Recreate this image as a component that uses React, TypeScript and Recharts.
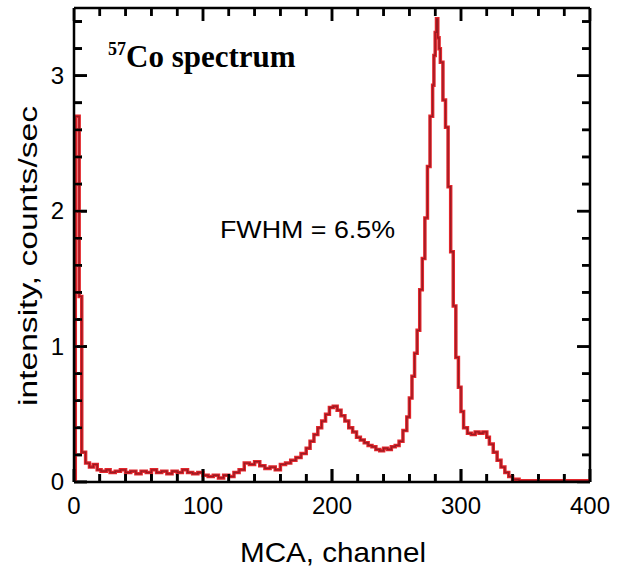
import React from "react";
import { LineChart, Line, XAxis, YAxis, Customized, ReferenceLine } from "recharts";

const channels = [
  0, 1, 4, 6, 9, 12, 15, 18, 21, 25, 28, 32, 36, 40, 44, 48, 52, 56, 60, 64, 68, 72, 76, 80, 84, 88, 92, 96,
  100, 104, 108, 112, 116, 120, 124, 128, 132, 136, 140, 144, 148, 152, 156, 160, 164, 168, 172, 176, 180,
  183, 186, 189, 192, 195, 198, 201, 204, 207, 210, 213, 216, 219, 222, 225, 228, 231, 234, 237, 240, 243,
  246, 249, 252, 255, 258, 260, 262, 264, 266, 268, 270, 272, 274, 276, 278, 279, 280, 281, 282, 283, 284,
  286, 288, 290, 292, 294, 296, 298, 300, 302, 305, 308, 311, 314, 317, 320, 322, 325, 328, 331, 334, 337,
  340, 345, 400,
];

const counts = [
  0.0, 2.7, 1.37, 0.22, 0.14, 0.11, 0.13, 0.09, 0.08, 0.09, 0.07, 0.08, 0.09, 0.07, 0.08, 0.06, 0.08, 0.07,
  0.09, 0.07, 0.08, 0.06, 0.08, 0.07, 0.09, 0.07, 0.06, 0.07, 0.05, 0.04, 0.05, 0.03, 0.05, 0.04, 0.07, 0.09,
  0.14, 0.13, 0.15, 0.12, 0.1, 0.11, 0.09, 0.13, 0.14, 0.16, 0.18, 0.21, 0.25, 0.3, 0.35, 0.4, 0.45, 0.5,
  0.55, 0.56, 0.53, 0.49, 0.45, 0.4, 0.37, 0.33, 0.31, 0.29, 0.27, 0.26, 0.24, 0.23, 0.25, 0.24, 0.26, 0.27,
  0.3, 0.38, 0.48, 0.62, 0.78, 0.95, 1.12, 1.42, 1.65, 1.95, 2.33, 2.7, 2.93, 3.15, 3.32, 3.42, 3.28, 3.2,
  3.1, 2.82, 2.62, 2.18, 1.7, 1.3, 0.92, 0.7, 0.52, 0.4, 0.36, 0.35, 0.37, 0.36, 0.37, 0.33, 0.28, 0.22,
  0.16, 0.11, 0.07, 0.04, 0.02, 0.01, 0.01,
];

const xTicks = [0, 20, 40, 60, 80, 100, 120, 140, 160, 180, 200, 220, 240, 260, 280, 300, 320, 340, 360, 380, 400];
const yTicks = [0, 0.2, 0.4, 0.6, 0.8, 1, 1.2, 1.4, 1.6, 1.8, 2, 2.2, 2.4, 2.6, 2.8, 3, 3.2, 3.4];

const titleText = "Co spectrum";
const titleSup = "57";
const noteText = "FWHM = 6.5%";
const xTitle = "MCA, channel";
const yTitle = "intensity, counts/sec";

const X_MIN = 0;
const X_MAX = 400;
const Y_MIN = 0;
const Y_MAX = 3.5;

const data = channels.map((c, i) => ({ ch: c, v: counts[i] }));

const SANS = "'Liberation Sans', Arial, sans-serif";
const SERIF = "'Liberation Serif', 'Times New Roman', serif";
const isMajorX = (v: number) => v % 100 === 0;
const isMajorY = (v: number) => Math.abs(v - Math.round(v)) < 1e-6;

// inward tick lengths in data units (about 13 px major, 8 px minor)
const xTickLen = (major: boolean) => (major ? 0.096 : 0.059);
const yTickLen = (major: boolean) => (major ? 10 : 6.2);

// tick-mark segments built from the tick lists
const tickSegments = [
  ...xTicks.map((t) => [
    { ch: t, v: Y_MIN },
    { ch: t, v: Y_MIN + xTickLen(isMajorX(t)) },
  ]),
  ...xTicks.map((t) => [
    { ch: t, v: Y_MAX },
    { ch: t, v: Y_MAX - xTickLen(isMajorX(t)) },
  ]),
  ...yTicks.map((t) => [
    { ch: X_MIN, v: t },
    { ch: X_MIN + yTickLen(isMajorY(t)), v: t },
  ]),
  ...yTicks.map((t) => [
    { ch: X_MAX, v: t },
    { ch: X_MAX - yTickLen(isMajorY(t)), v: t },
  ]),
];

const BottomTick = (p: any) => {
  const { x, y, payload } = p;
  const major = isMajorX(payload.value);
  return (
    <g>
      <line x1={x} y1={y} x2={x} y2={y - (major ? 13 : 8)} stroke="#000" strokeWidth={2.5} />
      {major ? (
        <text x={x} y={y + 32} textAnchor="middle" fontSize={24} fontFamily={SANS} fill="#000">
          {payload.value}
        </text>
      ) : null}
    </g>
  );
};

const LeftTick = (p: any) => {
  const { x, y, payload } = p;
  const major = isMajorY(payload.value);
  return (
    <g>
      <line x1={x} y1={y} x2={x + (major ? 13 : 8)} y2={y} stroke="#000" strokeWidth={2.5} />
      {major ? (
        <text x={x - 10} y={y + 8} textAnchor="end" fontSize={24} fontFamily={SANS} fill="#000">
          {String(Math.round(payload.value))}
        </text>
      ) : null}
    </g>
  );
};

const Annotations = () => (
  <g>
    <text x={108} y={67} fontFamily={SERIF} fontWeight="bold" fill="#000">
      <tspan fontSize={18} dy={-12}>{titleSup}</tspan>
      <tspan fontSize={31} dy={12}>{titleText}</tspan>
    </text>
    <text x={220} y={238} fontSize={24} fontFamily={SANS} fill="#000" textLength={175} lengthAdjust="spacingAndGlyphs">
      {noteText}
    </text>
    <text x={333} y={562} textAnchor="middle" fontSize={28} fontFamily={SANS} fill="#000" textLength={186} lengthAdjust="spacingAndGlyphs">
      {xTitle}
    </text>
    <text
      x={0}
      y={0}
      transform="translate(37 256) rotate(-90)"
      textAnchor="middle"
      fontSize={26}
      fontFamily={SANS}
      fill="#000"
      textLength={300}
      lengthAdjust="spacingAndGlyphs"
    >
      {yTitle}
    </text>
  </g>
);

export default function App() {
  return (
    <div style={{ position: "absolute", left: 0, top: 0, width: 619, height: 573, background: "#fff" }}>
      <LineChart width={619} height={573} data={data} margin={{ top: 7, right: 28, bottom: 0, left: 0 }}>
        <XAxis
          xAxisId="b"
          dataKey="ch"
          type="number"
          domain={[X_MIN, X_MAX]}
          allowDataOverflow
          ticks={xTicks}
          interval={0}
          height={91}
          tickSize={0}
          tickMargin={0}
          tickLine={false}
          axisLine={{ stroke: "#000", strokeWidth: 2.5 }}
          tick={BottomTick}
        />
        <XAxis
          xAxisId="t"
          orientation="top"
          dataKey="ch"
          type="number"
          domain={[X_MIN, X_MAX]}
          allowDataOverflow
          ticks={xTicks}
          interval={0}
          height={1}
          tickSize={0}
          tickMargin={0}
          tickLine={false}
          axisLine={{ stroke: "#000", strokeWidth: 2.5 }}
          tick={false}
        />
        <YAxis
          yAxisId="l"
          type="number"
          domain={[Y_MIN, Y_MAX]}
          allowDataOverflow
          ticks={yTicks}
          interval={0}
          width={74}
          tickSize={0}
          tickMargin={0}
          tickLine={false}
          axisLine={{ stroke: "#000", strokeWidth: 2.5 }}
          tick={LeftTick}
        />
        <YAxis
          yAxisId="r"
          orientation="right"
          type="number"
          domain={[Y_MIN, Y_MAX]}
          allowDataOverflow
          ticks={yTicks}
          interval={0}
          width={1}
          tickSize={0}
          tickMargin={0}
          tickLine={false}
          axisLine={{ stroke: "#000", strokeWidth: 2.5 }}
          tick={false}
        />
        {tickSegments.map((seg, i) => (
          <ReferenceLine
            key={"rl" + i}
            xAxisId="b"
            yAxisId="l"
            segment={[{ x: seg[0].ch, y: seg[0].v }, { x: seg[1].ch, y: seg[1].v }]}
            stroke="#000"
            strokeWidth={2.5}
            ifOverflow="visible"
          />
        ))}
        {tickSegments.map((seg, i) => (
          <Line
            key={"tk" + i}
            xAxisId="b"
            yAxisId="l"
            data={seg}
            dataKey="v"
            type="linear"
            stroke="#000"
            strokeWidth={2.5}
            dot={false}
            activeDot={false}
            legendType="none"
            isAnimationActive={false}
          />
        ))}
        <Line
          xAxisId="b"
          yAxisId="l"
          type="stepAfter"
          dataKey="v"
          stroke="#e3262c"
          strokeWidth={3.5}
          dot={false}
          isAnimationActive={false}
        />
        <Line
          xAxisId="t"
          yAxisId="r"
          type="stepAfter"
          dataKey="v"
          stroke="#9a1a22"
          strokeWidth={1.3}
          dot={false}
          isAnimationActive={false}
        />
        <Customized component={Annotations} />
      </LineChart>
    </div>
  );
}
